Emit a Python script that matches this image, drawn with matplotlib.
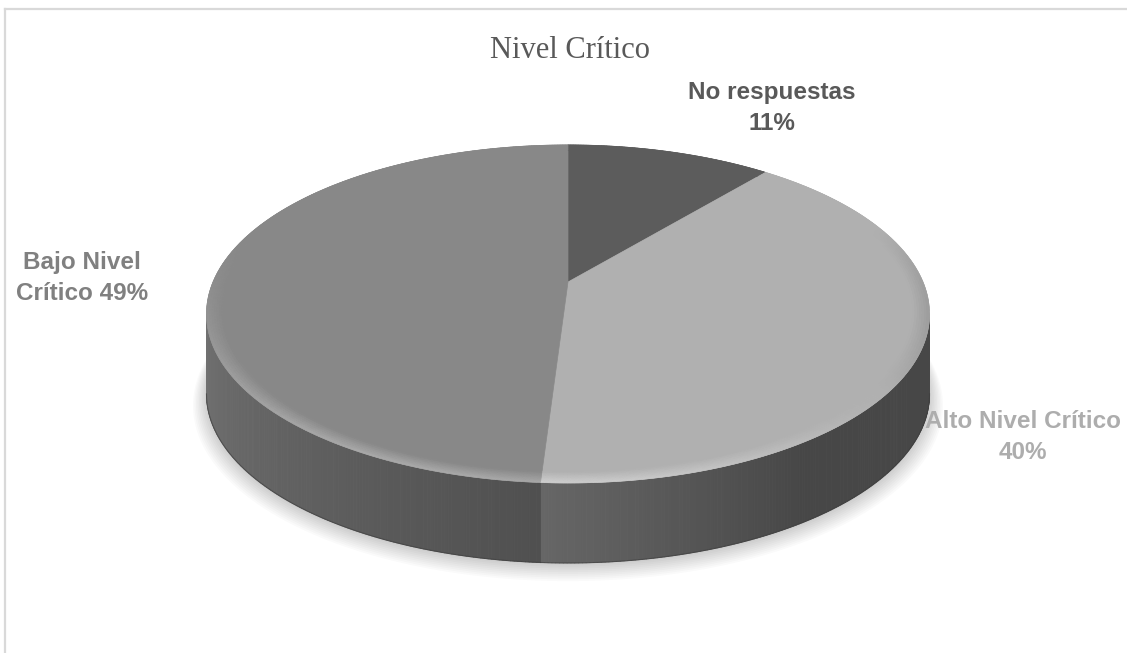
import numpy as np
import matplotlib.pyplot as plt
from matplotlib.patches import Polygon
from matplotlib.collections import PolyCollection

# data
categories = ["No respuestas", "Alto Nivel Crítico", "Bajo Nivel Crítico"]
values = [11, 40, 49]
label_texts = ["No respuestas\n11%", "Alto Nivel Crítico\n40%", "Bajo Nivel\nCrítico 49%"]
title = "Nivel Crítico"

# styles
top_gray = [0x5c, 0xb0, 0x88]
side_gray = [(0x5a, 0x48), (0x66, 0x47), (0x72, 0x50)]
label_colors = ["#595959", "#adadad", "#808080"]
label_xy = [(772, 108), (1023, 437), (82, 278)]

W, H = 1127, 653
CX, CY = 568.0, 282.0      # projected pie centre
S, T, K = 355.0, 163.0, 0.189  # half width, half depth, perspective
DEPTH = 80.0


def proj(phi, r=1.0, drop=0.0):
    u = r * np.cos(phi)
    v = r * np.sin(phi)
    d = 1 + K * v
    return CX + S * u / d, CY - T * v / d + drop


def g(level):
    level = int(np.clip(round(level), 0, 255))
    return "#%02x%02x%02x" % (level, level, level)


fig = plt.figure(figsize=(W / 100, H / 100), dpi=100)
ax = fig.add_axes([0, 0, 1, 1])
ax.set_xlim(0, W)
ax.set_ylim(H, 0)
ax.axis("off")

# frame
ax.plot([5, 5], [9, H], color="#d9d9d9", lw=1.6)
ax.plot([5, W], [9, 9], color="#d9d9d9", lw=1.6)

# slice angles, clockwise from 12 o'clock
frac = np.array(values, dtype=float) / sum(values)
edges = 90 - 360 * np.concatenate([[0], np.cumsum(frac)])

# soft shadow under the pie
full = np.radians(np.linspace(0, 360, 361))
for k in range(10):
    r = 1.0 + 0.004 * k
    xs, ys = proj(full, r, DEPTH + 2 + 0.8 * k)
    ax.add_patch(Polygon(np.c_[xs, ys], closed=True, fc="black", ec="none",
                         alpha=0.02, zorder=1))

# visible side range
a_hi = -np.degrees(np.arcsin(K))
a_lo = -180 - a_hi

for i in range(len(values)):
    a0, a1 = edges[i], edges[i + 1]
    for shift in (0, 360, -360):
        lo = max(a1 + shift, a_lo)
        hi = min(a0 + shift, a_hi)
        if hi <= lo:
            continue
        n = int((hi - lo) * 2) + 2
        ph = np.radians(np.linspace(lo, hi, n))
        xt, yt = proj(ph)
        xb, yb = proj(ph, 1.0, DEPTH)
        c_a, c_b = side_gray[i]
        polys, cols = [], []
        for j in range(n - 1):
            polys.append([(xt[j], yt[j]), (xt[j + 1], yt[j + 1]),
                          (xb[j + 1], yb[j + 1]), (xb[j], yb[j])])
            f = j / (n - 2) if n > 2 else 0
            if i == 1:
                lvl = c_b + (c_a - c_b) * max(0.0, 1 - f / 0.45)
            else:
                lvl = c_a + (c_b - c_a) * f
            cols.append(g(lvl))
        ax.add_collection(PolyCollection(polys, facecolors=cols, edgecolors=cols,
                                         linewidths=0.6, zorder=2))
        ax.plot(xb, yb, color="#3c3c3c", lw=0.8, alpha=0.6, zorder=2)

# top faces
for i in range(len(values)):
    ph = np.radians(np.linspace(edges[i], edges[i + 1], 200))
    xs, ys = proj(ph)
    pts = np.vstack([[CX, CY], np.c_[xs, ys]])
    ax.add_patch(Polygon(pts, closed=True, fc=g(top_gray[i]), ec=g(top_gray[i]),
                         lw=0.5, zorder=3))

# bevel along the rim
L = np.array([-0.6, -0.8])
rings = np.linspace(0.955, 1.0, 8)
for i in range(len(values)):
    ph = np.radians(np.linspace(edges[i], edges[i + 1],
                                int(abs(edges[i + 1] - edges[i]) * 2) + 2))
    polys, cols = [], []
    for k in range(len(rings) - 1):
        r0, r1 = rings[k], rings[k + 1]
        tilt = (k + 0.5) / (len(rings) - 1)
        for j in range(len(ph) - 1):
            p0, p1 = ph[j], ph[j + 1]
            pm = 0.5 * (p0 + p1)
            v = np.sin(pm)
            w = np.clip((0.35 - v) / 1.35, 0, 1)
            dot = L[0] * np.cos(pm) + L[1] * v
            s = dot * w * tilt
            base = top_gray[i]
            lvl = base + s * 38 if s > 0 else base + s * 110
            x0, y0 = proj(p0, r0)
            x1, y1 = proj(p1, r0)
            x2, y2 = proj(p1, r1)
            x3, y3 = proj(p0, r1)
            polys.append([(x0, y0), (x1, y1), (x2, y2), (x3, y3)])
            cols.append(g(lvl))
    ax.add_collection(PolyCollection(polys, facecolors=cols, edgecolors=cols,
                                     linewidths=0.4, zorder=4))

# labels
ax.text(570, 58, title, ha="center", va="baseline", fontsize=22,
        family="Liberation Serif", color="#595959")
for txt, (x, y), c in zip(label_texts, label_xy, label_colors):
    ax.text(x, y, txt, ha="center", va="center", fontsize=17.5, fontweight="bold",
            family="Liberation Sans", color=c, linespacing=1.42, zorder=5)

fig.savefig("out.png", dpi=100)
